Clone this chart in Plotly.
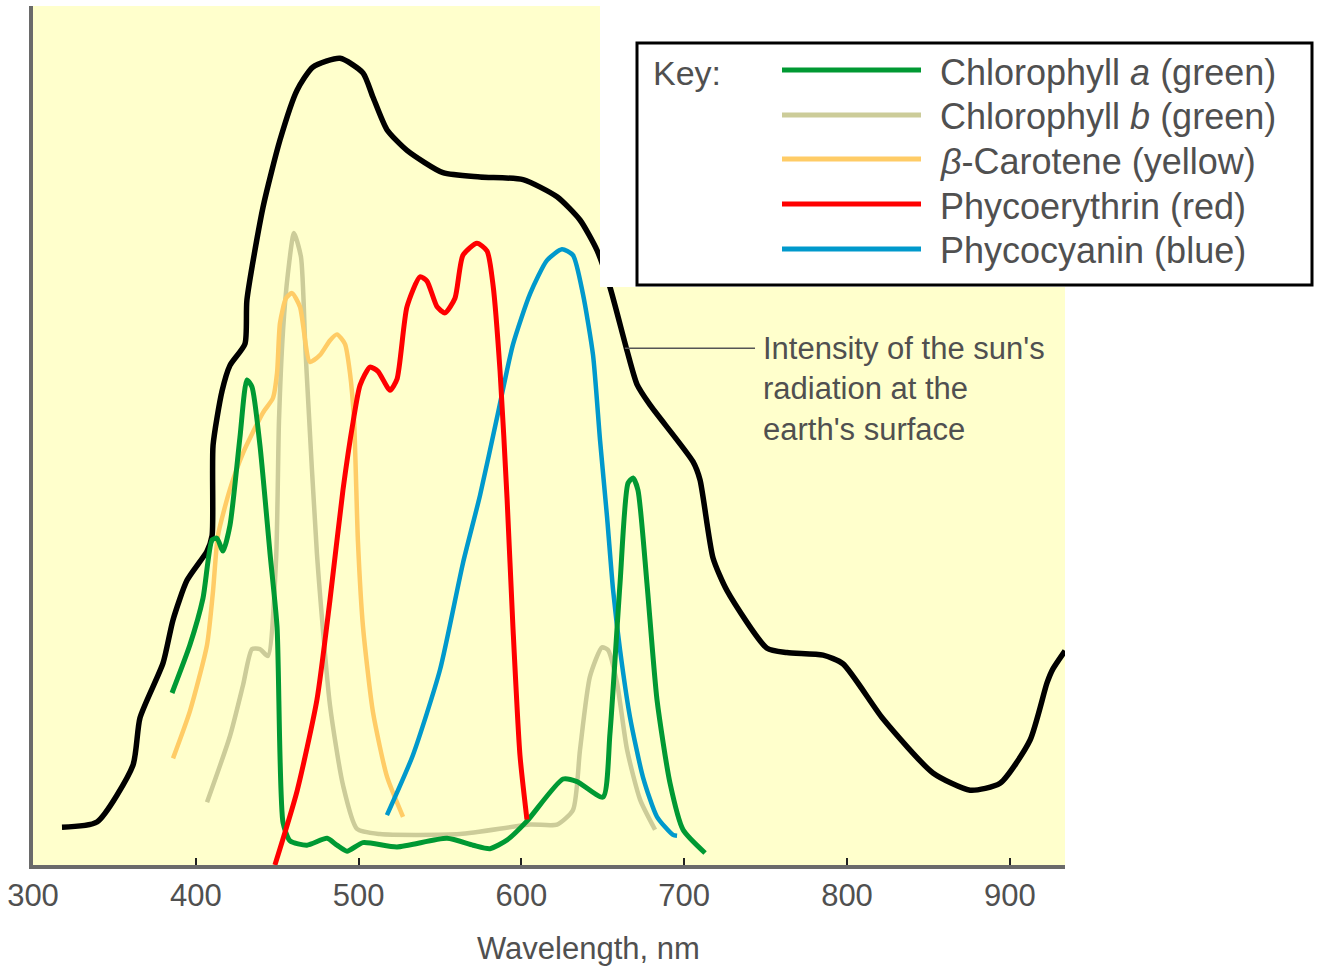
import plotly.graph_objects as go

# ---------------- data (wavelength nm, relative intensity / absorption 0-100) -------------
sun_nm = [317.8, 339.3, 361.4, 365.7, 379.9, 386.0, 394.6, 406.9, 410.0, 410.6, 416.1, 421.0,
          430.2, 431.4, 441.3, 451.7, 462.2, 472.0, 488.6, 502.7, 508.8, 517.4, 529.7, 551.8,
          574.6, 601.0, 621.9, 636.0, 646.4, 654.4, 664.9, 671.0, 679.0, 705.4, 709.7, 717.7,
          726.3, 750.9, 763.1, 785.3, 797.5, 822.1, 852.8, 875.6, 894.0, 912.4, 922.9, 926.5, 933.9]
sun_val = [4.4, 5.0, 11.6, 17.1, 23.5, 28.5, 33.1, 36.5, 38.3, 48.8, 55.1, 58.1,
           60.6, 65.7, 76.5, 84.3, 90.1, 92.8, 93.8, 92.1, 89.3, 85.5, 83.1, 80.5,
           80.0, 79.7, 77.7, 75.0, 71.5, 67.2, 59.8, 55.9, 53.5, 46.9, 44.8, 35.7,
           31.9, 25.2, 24.7, 24.4, 23.4, 17.0, 10.7, 8.7, 9.5, 14.5, 21.2, 22.8, 24.9]

chla_nm = [385.4, 396.4, 404.4, 410.0, 413.0, 416.7, 421.0, 427.1, 431.4, 434.5, 439.4, 445.6,
           449.9, 453.6, 457.9, 468.3, 480.6, 486.7, 492.9, 502.7, 523.6, 554.3, 570.3, 580.7,
           591.2, 603.4, 625.6, 634.2, 650.1, 654.4, 660.6, 665.5, 668.6, 671.6, 677.1, 683.3,
           691.3, 699.3, 712.8]
chla_val = [20.0, 25.6, 31.0, 37.8, 38.0, 36.5, 39.5, 49.7, 56.4, 55.6, 48.8, 36.2,
            27.7, 4.9, 2.8, 2.3, 3.1, 2.3, 1.6, 2.6, 2.1, 3.1, 2.3, 1.9,
            2.9, 5.1, 10.0, 9.7, 7.9, 15.3, 32.8, 44.4, 45.0, 43.6, 32.8, 19.2,
            9.5, 4.1, 1.4]

chlb_nm = [406.9, 421.0, 429.0, 434.5, 439.4, 444.3, 449.3, 451.1, 453.6, 456.6, 460.3, 464.6,
           467.1, 468.1, 474.4, 482.4, 490.4, 499.0, 513.1, 562.3, 605.3, 621.9, 631.7, 636.0,
           642.1, 649.5, 653.2, 658.7, 664.9, 672.9, 682.1]
chlb_val = [7.3, 15.0, 20.9, 25.1, 25.1, 24.3, 35.5, 51.7, 62.2, 68.8, 73.5, 70.7,
            61.0, 57.2, 36.2, 18.6, 9.3, 4.2, 3.6, 3.6, 4.7, 4.7, 6.4, 13.4,
            21.9, 25.3, 25.0, 21.2, 13.4, 7.6, 4.1]

carot_nm = [386.0, 396.4, 406.9, 410.6, 413.6, 421.0, 429.0, 441.3, 447.4, 449.9, 451.7, 455.4,
            459.1, 464.0, 470.1, 476.3, 482.4, 486.7, 491.6, 494.7, 497.2, 499.6, 502.7, 508.8,
            517.4, 527.3]
carot_val = [12.4, 17.9, 25.6, 31.9, 38.3, 43.7, 47.9, 52.6, 54.3, 57.2, 63.0, 65.9,
             66.5, 64.9, 58.5, 59.3, 61.0, 61.7, 60.6, 57.2, 51.7, 37.6, 27.7, 17.8,
             10.3, 5.6]

phe_nm = [448.6, 462.2, 474.4, 482.4, 490.4, 496.6, 500.9, 507.0, 511.9, 519.3, 523.6, 529.7,
          537.7, 542.0, 548.2, 553.1, 559.2, 564.1, 572.7, 578.9, 582.6, 586.9, 591.2, 594.8,
          599.1, 603.4]
phe_val = [0.0, 8.6, 19.2, 30.8, 43.6, 51.5, 55.8, 57.9, 57.4, 55.2, 56.5, 64.9,
           68.4, 67.9, 64.9, 64.2, 65.9, 70.9, 72.3, 71.4, 67.4, 57.4, 42.6, 27.7,
           12.8, 5.3]

phc_nm = [517.4, 533.4, 550.0, 564.1, 574.6, 585.0, 594.8, 605.3, 615.7, 624.9, 631.7, 637.8,
          644.0, 648.3, 652.6, 656.3, 660.6, 666.7, 674.7, 683.3, 693.1, 695.6]
phc_val = [5.8, 12.8, 22.7, 35.1, 43.0, 52.0, 60.5, 66.4, 70.3, 71.6, 70.9, 66.4,
           59.3, 49.4, 40.5, 32.0, 25.0, 17.2, 10.2, 5.6, 3.5, 3.4]

x_ticks = [300, 400, 500, 600, 700, 800, 900]

legend_names = ["Chlorophyll <i>a</i> (green)", "Chlorophyll <i>b</i> (green)",
                "<i>β</i>-Carotene (yellow)", "Phycoerythrin (red)", "Phycocyanin (blue)"]
legend_colors = ["#009933", "#CCCC99", "#FFCC66", "#FF0000", "#0099CC"]

# ---------------- layout geometry (pixels) ----------------
W, H = 1319, 972
L, R, T, B = 33, 1065, 6, 865


def px(xp):
    return (xp - L) / (R - L)


def py(yp):
    return (B - yp) / (B - T)


FONT = "Liberation Sans, Arial, sans-serif"
TXT = "#505050"

fig = go.Figure()


def add(xs, ys, color, width):
    fig.add_trace(go.Scatter(x=xs, y=ys, mode="lines",
                             line=dict(color=color, width=width, shape="spline", smoothing=0.6),
                             hoverinfo="skip", showlegend=False))


add(sun_nm, sun_val, "#000000", 5.5)
add(chlb_nm, chlb_val, legend_colors[1], 4.5)
add(carot_nm, carot_val, legend_colors[2], 4.5)
add(phc_nm, phc_val, legend_colors[4], 4.5)
add(chla_nm, chla_val, legend_colors[0], 5)
add(phe_nm, phe_val, legend_colors[3], 5)

shapes = []
# white cut-out of the top-right corner of the yellow panel
shapes.append(dict(type="rect", xref="paper", yref="paper", x0=px(600), x1=px(1319),
                   y0=py(287), y1=py(-5), fillcolor="white", line=dict(width=0), layer="above"))
# key box
shapes.append(dict(type="rect", xref="paper", yref="paper", x0=px(637), x1=px(1312),
                   y0=py(285), y1=py(43), fillcolor="white",
                   line=dict(color="black", width=3), layer="above"))
row_y = [70, 115, 159, 204, 249]
annotations = []
for i, (name, col) in enumerate(zip(legend_names, legend_colors)):
    shapes.append(dict(type="line", xref="paper", yref="paper", x0=px(782), x1=px(921),
                       y0=py(row_y[i]), y1=py(row_y[i]),
                       line=dict(color=col, width=5), layer="above"))
    annotations.append(dict(xref="paper", yref="paper", x=px(938), y=py(row_y[i] + 2),
                            xanchor="left", yanchor="middle", showarrow=False,
                            text=name, font=dict(family=FONT, size=36, color=TXT)))
annotations.append(dict(xref="paper", yref="paper", x=px(651), y=py(73), xanchor="left",
                        yanchor="middle", showarrow=False, text="Key:",
                        font=dict(family=FONT, size=34, color=TXT)))

# leader line for the sun curve label
shapes.append(dict(type="line", xref="x", yref="y", x0=663.6, x1=743.5, y0=60.1, y1=60.1,
                   line=dict(color="#555555", width=1.5), layer="above"))
annotations.append(dict(xref="x", yref="y", x=747.0, y=55.3, xanchor="left", yanchor="middle",
                        align="left", showarrow=False,
                        text="Intensity of the sun's<br>radiation at the<br>earth's surface",
                        font=dict(family=FONT, size=31, color=TXT)))
# x axis title
annotations.append(dict(xref="paper", yref="paper", x=px(588), y=py(948), xanchor="center",
                        yanchor="middle", showarrow=False, text="Wavelength, nm",
                        font=dict(family=FONT, size=31, color=TXT)))

fig.update_layout(
    width=W, height=H,
    margin=dict(l=L, r=W - R, t=T, b=H - B, pad=0),
    paper_bgcolor="white", plot_bgcolor="#FFFFCC",
    shapes=shapes, annotations=annotations, showlegend=False,
    xaxis=dict(range=[300, 300 + (R - L) / 1.628], tickvals=x_ticks,
               ticktext=[str(v) for v in x_ticks], ticks="inside", ticklen=7,
               tickwidth=2, tickcolor="#222222", showline=True, linecolor="#6a6a6a",
               linewidth=4, showgrid=False, zeroline=False,
               tickfont=dict(family=FONT, size=31, color=TXT), ticklabelstandoff=0),
    yaxis=dict(range=[0, (B - T) / 8.6], showticklabels=False, ticks="", showline=True,
               linecolor="#6a6a6a", linewidth=4, showgrid=False, zeroline=False),
)

fig.write_html("out.html", config={"displayModeBar": False},
               post_script="document.body.style.margin='0px';document.body.style.overflow='hidden';")
